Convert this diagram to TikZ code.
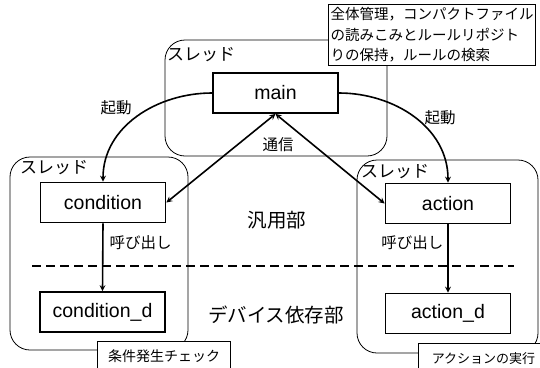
\documentclass[tikz,border=0pt]{standalone}
\usepackage{fontspec}
\setmainfont{Liberation Sans}
\newfontfamily\jp{Noto Sans CJK JP}
\usetikzlibrary{arrows}
\usetikzlibrary{positioning, calc}

\tikzset{
  modbox/.style={draw, line width=1.8pt, minimum width=125pt, minimum height=40pt, font=\fontsize{19.5}{19.5}\selectfont, fill=white},
  thread/.style={draw, rounded corners=20pt, line width=0.8pt},
  note/.style={draw, line width=1pt, fill=white, align=left, font=\jp\fontsize{14.5}{20.5}\selectfont, inner sep=2pt},
  lbl/.style={font=\jp\fontsize{15.5}{15.5}\selectfont},
  thlbl/.style={font=\jp\fontsize{17}{17}\selectfont, inner sep=0pt},
  big/.style={font=\jp\fontsize{19.5}{19.5}\selectfont}
}

\begin{document}
\begin{tikzpicture}[>=stealth, x=1pt, y=-1pt]
    \useasboundingbox (0, 0) rectangle (540, 367);

    % threads
    \draw[thread] (165, 40) rectangle (387, 156);
    \draw[thread] (10, 157) rectangle (188, 350);
    \draw[thread] (357, 160) rectangle (538, 353);
    \node[thlbl] (thmain) at (201, 55) {スレッド};
    \node[thlbl] (thcond) at (54, 168) {スレッド};
    \node[thlbl] (thact) at (395, 172) {スレッド};

    % dashed border
    \draw[dashed, line width=1.6pt, dash pattern=on 9pt off 5pt] (32, 266) -- (514, 266);

    \node[modbox] (main) at (275.5, 93) {main};
    \node[modbox] (cond) at (103, 202.5) {condition};
    \node[modbox] (condd) at (102.5, 312) {condition\_d};
    \node[modbox] (act) at (448, 203.5) {action};
    \node[modbox] (actd) at (448, 313.5) {action\_d};

    \draw[->, line width=1.6pt] (main.west) to[out=180, in=90] (cond.north);
    \draw[->, line width=1.6pt] (main.east) to[out=0, in=90] (act.north);
    \draw[<->, line width=1.6pt] (main.south) -- (cond.east);
    \draw[<->, line width=1.6pt] (main.south) -- (act.west);
    \draw[->, line width=1.6pt] (cond.south) -- (condd.north);
    \draw[->, line width=1.6pt] (act.south) -- (actd.north);

    \node[lbl] (start1) at (116, 108) {起動};
    \node[lbl] (start2) at (440, 118) {起動};
    \node[lbl] (comm) at (278, 145) {通信};
    \node[lbl, anchor=west] (call1) at (106, 243) {呼び出し};
    \node[lbl, anchor=east] (call2) at (447, 243) {呼び出し};
    \node[big] (gen) at (277, 220) {汎用部};
    \node[big] (dev) at (276, 315) {デバイス依存部};

    % notes
    \node[note, anchor=north west, minimum width=203pt, minimum height=61pt] (nmain) at (328, 4) {全体管理，コンパクトファイル\\の読みこみとルールリポジト\\りの保持，ルールの検索};
    \node[note, anchor=north west, minimum width=133pt, minimum height=30pt, font=\jp\fontsize{14}{14}\selectfont] (ncond) at (97, 341) {条件発生チェック};
    \node[note, anchor=north west, minimum width=130pt, minimum height=30pt, font=\jp\fontsize{13}{13}\selectfont] (nact) at (418, 343) {アクションの実行};
\end{tikzpicture}
\end{document}
